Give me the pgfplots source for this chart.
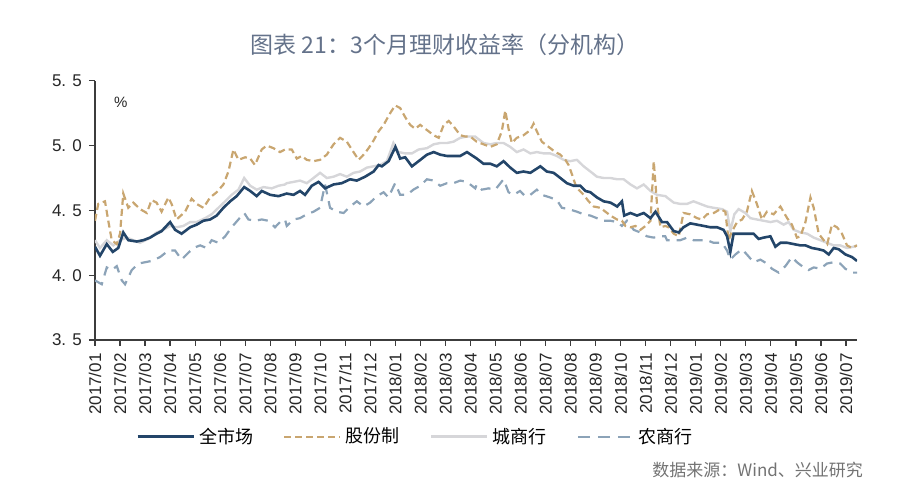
\documentclass[border=0pt]{standalone}
\usepackage{pgfplots}
\pgfplotsset{compat=1.18}
\usepackage{fontspec}
\setmainfont{Liberation Sans}
\newfontfamily\cjk{Noto Sans CJK SC}
\definecolor{navy}{RGB}{35,69,105}
\definecolor{tanline}{RGB}{201,166,112}
\definecolor{citygray}{RGB}{214,214,217}
\definecolor{rural}{RGB}{140,163,184}
\definecolor{titleblue}{RGB}{100,114,138}
\definecolor{axisgray}{RGB}{60,60,60}

\begin{document}
\begin{tikzpicture}
\useasboundingbox (-47.5pt,-76pt) rectangle (402.5pt,170pt);
\begin{axis}[
    scale only axis,
    width=381pt, height=129.6pt,
    xmin=0, xmax=30.44,
    ymin=3.5, ymax=5.5,
    axis lines=left,
    axis line style={-, axisgray, line width=0.7pt},
    tick style={axisgray, line width=0.6pt},
    tick align=outside,
    major tick length=3pt,
    xtick={0,...,30},
    xticklabels={2017/01,2017/02,2017/03,2017/04,2017/05,2017/06,2017/07,2017/08,2017/09,2017/10,2017/11,2017/12,
                 2018/01,2018/02,2018/03,2018/04,2018/05,2018/06,2018/07,2018/08,2018/09,2018/10,2018/11,2018/12,
                 2019/01,2019/02,2019/03,2019/04,2019/05,2019/06,2019/07},
    xticklabel style={rotate=90, anchor=east, font=\fontsize{8.5}{8.5}\selectfont, text=black!85, inner sep=3.5pt},
    ytick={3.5,4,4.5,5,5.5},
    yticklabels={3. 5,4. 0,4. 5,5. 0,5. 5},
    yticklabel style={font=\fontsize{8.5}{9}\selectfont, text=black!85},
    legend columns=4,
    legend style={draw=none, fill=none, at={(0.422,-0.374)}, anchor=center,
        font=\cjk\fontsize{9}{9}\selectfont,
        /tikz/every even column/.append style={column sep=13pt}},
    legend image code/.code={\draw[#1] (0pt,0pt) -- (28pt,0pt);},
]
\addlegendimage{navy, line width=1.5pt}
\addlegendentry{全市场}
\addlegendimage{tanline, line width=1.2pt, dash pattern=on 3.5pt off 2pt}
\addlegendentry{股份制}
\addlegendimage{citygray, line width=1.5pt}
\addlegendentry{城商行}
\addlegendimage{rural, line width=1.2pt, dash pattern=on 6pt off 4pt}
\addlegendentry{农商行}

% 城商行
\addplot[citygray, line width=1.2pt, forget plot] coordinates {
(0,4.27) (0.2,4.21) (0.47,4.27) (0.73,4.23) (1.0,4.27) (1.27,4.29) (1.53,4.27) (1.8,4.25) (2.13,4.28) (2.46,4.33)
(2.73,4.35) (3.0,4.38) (3.26,4.37) (3.53,4.38) (3.8,4.41) (4.06,4.41) (4.4,4.44) (4.66,4.47) (4.93,4.52) (5.2,4.57)
(5.46,4.62) (5.73,4.66) (5.96,4.75) (6.2,4.69) (6.46,4.66) (6.73,4.68) (7.06,4.67) (7.33,4.69) (7.59,4.70)
(7.66,4.71) (7.93,4.72) (8.19,4.73) (8.46,4.71) (8.73,4.75) (8.99,4.79) (9.26,4.75) (9.53,4.76) (9.79,4.78) (10.06,4.76)
(10.33,4.79) (10.59,4.80) (10.86,4.83) (11.12,4.84) (11.39,4.85) (11.66,4.88) (11.92,5.02) (12.12,4.95) (12.39,4.94)
(12.66,4.94) (12.93,4.97) (13.26,4.98) (13.53,5.01) (13.79,5.02) (14.06,5.02) (14.32,5.03) (14.59,5.06) (14.86,5.07)
(15.19,5.07) (15.25,5.06) (15.52,5.02) (15.79,5.01) (16.05,5.02) (16.32,5.02) (16.59,4.99) (16.85,4.95) (17.12,4.97)
(17.39,4.94) (17.65,4.95) (17.92,4.94) (18.18,4.94) (18.45,4.92) (18.72,4.89) (18.98,4.88) (19.25,4.89) (19.52,4.84)
(19.79,4.80) (20.05,4.76) (20.32,4.75) (20.59,4.75) (20.86,4.74) (21.12,4.74) (21.39,4.70) (21.65,4.67) (21.92,4.70)
(22.19,4.65) (22.45,4.62) (22.79,4.61) (22.85,4.60) (23.12,4.56) (23.38,4.55) (23.65,4.55) (23.91,4.57) (24.18,4.55)
(24.45,4.53) (24.71,4.52) (25.05,4.51) (25.25,4.49) (25.38,4.34) (25.54,4.47) (25.71,4.51) (25.98,4.48) (26.18,4.44)
(26.44,4.43) (26.71,4.42) (26.98,4.41) (27.24,4.42) (27.51,4.39) (27.71,4.41) (27.91,4.35) (28.18,4.33) (28.45,4.32)
(28.71,4.29) (28.98,4.27) (29.24,4.25) (29.51,4.23) (29.77,4.23) (30.04,4.21) (30.31,4.22) (30.44,4.23)
};

% 农商行
\addplot[rural, line width=1.1pt, dash pattern=on 5pt off 3.5pt, forget plot] coordinates {
(0,3.96) (0.27,3.93) (0.47,4.06) (0.67,4.04) (0.87,4.07) (1.07,3.96) (1.2,3.93) (1.47,4.04) (1.73,4.09) (2.0,4.10)
(2.26,4.11) (2.6,4.14) (2.93,4.19) (3.2,4.19) (3.46,4.12) (3.66,4.16) (3.93,4.21) (4.2,4.23) (4.46,4.21) (4.66,4.27)
(4.93,4.25) (5.2,4.30) (5.46,4.37) (5.73,4.43) (5.96,4.48) (6.13,4.43) (6.39,4.42) (6.66,4.43) (6.93,4.42) (7.19,4.37)
(7.39,4.41) (7.59,4.43) (7.66,4.38) (7.93,4.43) (8.19,4.44) (8.46,4.47) (8.73,4.49) (8.99,4.52) (9.19,4.70) (9.39,4.52)
(9.66,4.49) (9.93,4.48) (10.19,4.53) (10.46,4.57) (10.73,4.53) (10.99,4.56) (11.26,4.61) (11.53,4.64) (11.72,4.60)
(11.99,4.71) (12.19,4.62) (12.46,4.62) (12.72,4.66) (12.99,4.69) (13.26,4.74) (13.53,4.73) (13.79,4.69) (14.06,4.71)
(14.32,4.71) (14.59,4.73) (14.86,4.72) (15.19,4.67) (15.25,4.70) (15.45,4.66) (15.72,4.67) (15.99,4.66) (16.32,4.74)
(16.52,4.64) (16.72,4.62) (16.98,4.65) (17.18,4.61) (17.39,4.62) (17.65,4.66) (17.85,4.62) (18.18,4.60) (18.45,4.58)
(18.65,4.52) (18.92,4.51) (19.25,4.49) (19.52,4.47) (19.79,4.46) (20.05,4.44) (20.32,4.42) (20.59,4.42) (20.86,4.41)
(21.05,4.38) (21.25,4.42) (21.52,4.35) (21.78,4.33) (22.05,4.30) (22.32,4.29) (22.58,4.30) (22.78,4.30) (22.85,4.27)
(23.12,4.27) (23.38,4.27) (23.65,4.29) (23.91,4.27) (24.18,4.27) (24.45,4.27) (24.71,4.25) (25.05,4.25) (25.25,4.19)
(25.38,4.12) (25.58,4.16) (25.85,4.20) (26.04,4.16) (26.31,4.10) (26.58,4.12) (26.84,4.09) (27.04,4.05) (27.31,4.02)
(27.58,4.07) (27.84,4.14) (28.04,4.10) (28.31,4.06) (28.51,4.04) (28.71,4.06) (28.98,4.05) (29.24,4.09) (29.51,4.10)
(29.77,4.09) (29.97,4.05) (30.24,4.02) (30.44,4.02)
};

% 股份制
\addplot[tanline, line width=1.1pt, dash pattern=on 3.5pt off 2pt, forget plot] coordinates {
(0,4.42) (0.13,4.55) (0.4,4.57) (0.53,4.42) (0.67,4.27) (0.87,4.24) (1.0,4.32) (1.13,4.63) (1.33,4.52) (1.53,4.56)
(1.8,4.51) (2.07,4.48) (2.26,4.58) (2.46,4.56) (2.66,4.49) (2.93,4.60) (3.06,4.55) (3.26,4.43) (3.6,4.49) (3.86,4.59)
(4.06,4.55) (4.33,4.52) (4.6,4.60) (4.86,4.64) (5.13,4.70) (5.33,4.80) (5.53,4.97) (5.73,4.89) (6.0,4.91) (6.2,4.90)
(6.39,4.85) (6.66,4.97) (6.86,5.00) (7.13,4.98) (7.39,4.95) (7.59,4.97) (7.86,4.97) (8.06,4.90) (8.26,4.92) (8.46,4.89)
(8.73,4.88) (8.99,4.89) (9.26,4.93) (9.53,5.01) (9.79,5.06) (10.06,5.03) (10.26,4.97) (10.53,4.89) (10.73,4.93)
(10.93,4.98) (11.13,5.04) (11.33,5.11) (11.53,5.16) (11.79,5.25) (11.99,5.31) (12.19,5.29) (12.39,5.22) (12.59,5.16)
(12.79,5.13) (12.99,5.16) (13.26,5.12) (13.53,5.08) (13.73,5.06) (13.93,5.16) (14.13,5.19) (14.32,5.15) (14.59,5.08)
(14.79,5.07) (14.99,5.07) (15.25,5.03) (15.52,5.01) (15.79,4.99) (16.05,5.01) (16.25,5.11) (16.39,5.27) (16.52,5.13)
(16.65,5.02) (16.85,5.06) (17.12,5.08) (17.39,5.12) (17.52,5.17) (17.65,5.11) (17.85,5.03) (18.12,4.99) (18.39,4.95)
(18.59,4.93) (18.79,4.89) (18.92,4.85) (19.05,4.78) (19.19,4.70) (19.32,4.66) (19.52,4.62) (19.72,4.57) (19.92,4.53)
(20.19,4.52) (20.39,4.49) (20.59,4.46) (20.85,4.43) (21.05,4.42) (21.19,4.38) (21.39,4.37) (21.59,4.38) (21.79,4.35)
(21.99,4.38) (22.19,4.42) (22.32,4.88) (22.45,4.55) (22.59,4.37) (22.79,4.38) (22.91,4.37) (23.12,4.32) (23.32,4.30)
(23.51,4.48) (23.78,4.47) (24.05,4.44) (24.25,4.43) (24.45,4.47) (24.72,4.48) (24.98,4.51) (25.18,4.49) (25.31,4.27)
(25.45,4.34) (25.65,4.41) (25.85,4.43) (26.04,4.49) (26.24,4.65) (26.44,4.55) (26.64,4.43) (26.84,4.49) (27.11,4.47)
(27.38,4.53) (27.65,4.44) (27.84,4.39) (28.04,4.29) (28.18,4.30) (28.38,4.41) (28.58,4.60) (28.71,4.52) (28.91,4.32)
(29.11,4.27) (29.25,4.24) (29.44,4.39) (29.64,4.37) (29.84,4.32) (30.04,4.23) (30.24,4.21) (30.44,4.23)
};

% 全市场
\addplot[navy, line width=1.3pt, forget plot] coordinates {
(0,4.22) (0.2,4.15) (0.47,4.24) (0.71,4.18) (0.93,4.21) (1.13,4.33) (1.33,4.27) (1.67,4.26) (1.93,4.27) (2.2,4.29)
(2.46,4.32) (2.66,4.34) (3.0,4.41) (3.2,4.35) (3.46,4.32) (3.8,4.37) (4.06,4.39) (4.33,4.42) (4.6,4.43) (4.86,4.46)
(5.13,4.52) (5.4,4.57) (5.66,4.61) (5.96,4.68) (6.2,4.65) (6.46,4.61) (6.66,4.65) (7.0,4.62) (7.33,4.61) (7.66,4.63)
(7.93,4.62) (8.19,4.65) (8.39,4.62) (8.66,4.69) (8.93,4.72) (9.19,4.67) (9.53,4.70) (9.86,4.71) (10.19,4.74) (10.46,4.73)
(10.79,4.76) (11.13,4.80) (11.33,4.85) (11.46,4.84) (11.73,4.88) (12.0,4.99) (12.19,4.90) (12.39,4.91) (12.66,4.84)
(12.93,4.88) (13.26,4.93) (13.53,4.95) (13.79,4.93) (14.06,4.92) (14.32,4.92) (14.59,4.92) (14.86,4.95) (15.25,4.90)
(15.52,4.86) (15.79,4.86) (16.05,4.84) (16.32,4.88) (16.59,4.83) (16.85,4.79) (17.12,4.80) (17.39,4.79) (17.79,4.84)
(18.05,4.80) (18.32,4.79) (18.59,4.75) (18.85,4.71) (19.12,4.69) (19.39,4.69) (19.59,4.65) (19.79,4.64) (20.05,4.60)
(20.32,4.57) (20.59,4.56) (20.86,4.53) (21.05,4.57) (21.14,4.46) (21.39,4.48) (21.65,4.46) (21.92,4.48) (22.19,4.44)
(22.39,4.49) (22.65,4.41) (22.85,4.41) (23.12,4.34) (23.32,4.33) (23.51,4.37) (23.78,4.40) (24.05,4.39) (24.32,4.38)
(24.58,4.37) (24.85,4.37) (25.11,4.35) (25.25,4.30) (25.38,4.18) (25.51,4.32) (25.78,4.32) (26.04,4.32) (26.31,4.32)
(26.51,4.28) (26.71,4.29) (26.98,4.30) (27.18,4.22) (27.38,4.25) (27.65,4.25) (27.91,4.24) (28.18,4.23) (28.38,4.23)
(28.64,4.21) (28.91,4.20) (29.11,4.19) (29.31,4.16) (29.51,4.21) (29.71,4.20) (29.98,4.16) (30.24,4.14) (30.44,4.11)
};

\node[font=\fontsize{7.5}{8}\selectfont, text=black!85] at (rel axis cs:0.034,0.918) {\%};
\end{axis}
\node[font=\cjk\fontsize{11.5}{12}\selectfont, text=titleblue] at (175pt,147.5pt) {图表 21：3个月理财收益率（分机构）};
\node[anchor=east, font=\cjk\fontsize{8.5}{9}\selectfont, text=black!55] at (387.5pt,-65pt) {数据来源：Wind、兴业研究};
\end{tikzpicture}
\end{document}
